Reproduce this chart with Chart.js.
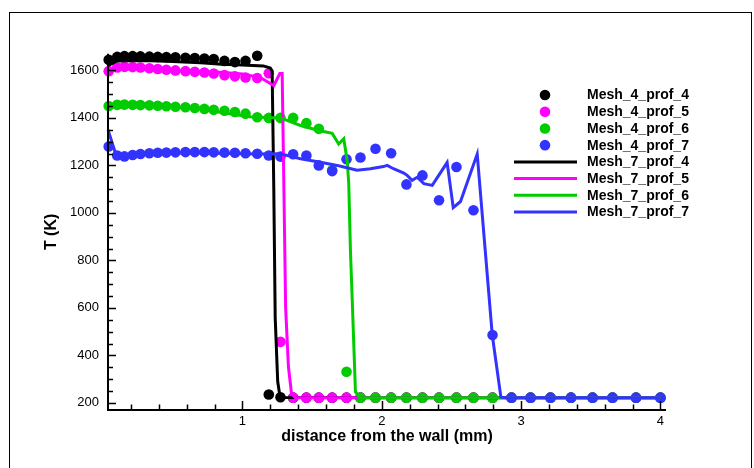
<!DOCTYPE html>
<html>
<head>
<meta charset="utf-8">
<script src="https://cdn.jsdelivr.net/npm/chart.js@4.4.0/dist/chart.umd.min.js"></script>
<style>
  html, body { margin: 0; padding: 0; background: #ffffff; }
  canvas { display: block; }
</style>
</head>
<body>
<canvas id="profiles" width="754" height="468"></canvas>
<script>
// Coarse mesh (Mesh_4) sample positions, mm from the wall
const mesh4X = [0.040, 0.101, 0.153, 0.212, 0.268, 0.332, 0.392, 0.454, 0.519, 0.591,
                0.658, 0.727, 0.794, 0.871, 0.946, 1.022, 1.106, 1.189, 1.273, 1.364,
                1.459, 1.548, 1.644, 1.747, 1.847, 1.955, 2.067, 2.177, 2.292, 2.411,
                2.536, 2.658, 2.795, 2.931, 3.068, 3.211, 3.358, 3.513, 3.656, 3.825, 4.0];

// Mesh_4 temperatures (K) for profiles 4..7
const mesh4Prof4 = [1645, 1657, 1660, 1660, 1659, 1658, 1657, 1656, 1655, 1653,
                    1652, 1650, 1648, 1640, 1635, 1640, 1662, 235, 224, 222,
                    222, 222, 222, 222, 222, 222, 222, 222, 222, 222,
                    222, 222, 222, 222, 222, 222, 222, 222, 222, 222, 222];
const mesh4Prof5 = [1597, 1612, 1615, 1614, 1612, 1609, 1606, 1603, 1600, 1597,
                    1594, 1591, 1587, 1580, 1575, 1570, 1568, 1588, 457, 222,
                    222, 222, 222, 222, 222, 222, 222, 222, 222, 222,
                    222, 222, 222, 222, 222, 222, 222, 222, 222, 222, 222];
const mesh4Prof6 = [1450, 1455, 1456, 1455, 1454, 1453, 1451, 1449, 1447, 1445,
                    1442, 1438, 1434, 1430, 1425, 1418, 1403, 1400, 1400, 1400,
                    1378, 1354, 1180, 331, 222, 222, 222, 222, 222, 222,
                    222, 222, 222, 222, 222, 222, 222, 222, 222, 222, 222];
const mesh4Prof7 = [1280, 1242, 1238, 1244, 1248, 1251, 1253, 1254, 1255, 1256,
                    1256, 1256, 1255, 1254, 1253, 1251, 1249, 1242, 1237, 1247,
                    1242, 1200, 1176, 1226, 1233, 1270, 1251, 1120, 1158, 1053,
                    1193, 1011, 486, 222, 222, 222, 222, 222, 222, 222, 222];

// Fine mesh (Mesh_7) profiles: positions (mm) and temperatures (K)
const mesh7Prof4X = [0.035, 0.10, 0.30, 0.50, 0.70, 0.85, 1.00, 1.15, 1.20, 1.213,
                     1.225, 1.235, 1.253, 1.268, 1.30, 4.0];
const mesh7Prof4T = [1620, 1640, 1642, 1638, 1632, 1626, 1623, 1619, 1610, 1598,
                     1100, 560, 290, 232, 223, 222];

const mesh7Prof5X = [0.035, 0.08, 0.30, 0.60, 0.842, 1.00, 1.129, 1.225, 1.268, 1.285,
                     1.295, 1.31, 1.33, 1.352, 1.38, 4.0];
const mesh7Prof5T = [1585, 1608, 1604, 1597, 1592, 1585, 1570, 1536, 1587, 1587,
                     1200, 600, 352, 240, 222, 222];

const mesh7Prof6X = [0.035, 0.10, 0.30, 0.50, 0.70, 0.90, 1.05, 1.273, 1.417, 1.548,
                     1.644, 1.691, 1.727, 1.752, 1.763, 1.775, 1.788, 1.811, 1.84, 4.0];
const mesh7Prof6T = [1440, 1450, 1450, 1446, 1436, 1418, 1405, 1400, 1368, 1347,
                     1335, 1290, 1312, 1220, 1123, 843, 633, 247, 222, 222];

const mesh7Prof7X = [0.035, 0.085, 0.14, 0.30, 0.50, 0.70, 0.90, 1.10, 1.273, 1.417,
                     1.56, 1.68, 1.727, 1.823, 1.919, 2.012, 2.039, 2.084, 2.158, 2.182,
                     2.218, 2.254, 2.302, 2.362, 2.469, 2.513, 2.565, 2.685, 2.793, 2.855,
                     2.90, 4.0];
const mesh7Prof7T = [1350, 1258, 1240, 1247, 1252, 1252, 1250, 1248, 1249, 1228,
                     1213, 1200, 1193, 1180, 1186, 1195, 1200, 1186, 1168, 1158,
                     1137, 1150, 1123, 1116, 1212, 1022, 1048, 1248, 486, 224,
                     222, 222];

const seriesLabels = ['Mesh_4_prof_4', 'Mesh_4_prof_5', 'Mesh_4_prof_6', 'Mesh_4_prof_7',
                      'Mesh_7_prof_4', 'Mesh_7_prof_5', 'Mesh_7_prof_6', 'Mesh_7_prof_7'];

const xTickValues = [1, 2, 3, 4];
const yTickValues = [200, 400, 600, 800, 1000, 1200, 1400, 1600];

const FONT = '"Liberation Sans", Arial, Helvetica, sans-serif';
const profileColors = ['#000000', '#ff00ff', '#00cc00', '#3333ff'];

function toPoints(xs, ys) {
  return xs.map((x, i) => ({ x: x, y: ys[i] }));
}

function dotSeries(label, xs, ys, color, order) {
  return {
    label: label, data: toPoints(xs, ys), showLine: false,
    pointRadius: 5.3, pointHoverRadius: 5.3, pointBorderWidth: 0,
    pointBackgroundColor: color, backgroundColor: color, borderColor: color,
    clip: false, order: order
  };
}

function lineSeries(label, xs, ys, color, order) {
  return {
    label: label, data: toPoints(xs, ys), showLine: true, fill: false,
    borderColor: color, backgroundColor: color, borderWidth: 3,
    pointRadius: 0, pointHoverRadius: 0, tension: 0,
    borderJoinStyle: 'miter', clip: false, order: order
  };
}

const datasets = [
  dotSeries(seriesLabels[0], mesh4X, mesh4Prof4, profileColors[0], 7),
  dotSeries(seriesLabels[1], mesh4X, mesh4Prof5, profileColors[1], 6),
  dotSeries(seriesLabels[2], mesh4X, mesh4Prof6, profileColors[2], 5),
  dotSeries(seriesLabels[3], mesh4X, mesh4Prof7, profileColors[3], 4),
  lineSeries(seriesLabels[4], mesh7Prof4X, mesh7Prof4T, profileColors[0], 3),
  lineSeries(seriesLabels[5], mesh7Prof5X, mesh7Prof5T, profileColors[1], 2),
  lineSeries(seriesLabels[6], mesh7Prof6X, mesh7Prof6T, profileColors[2], 1),
  lineSeries(seriesLabels[7], mesh7Prof7X, mesh7Prof7T, profileColors[3], 0)
];

// Outer frame around the figure
const framePlugin = {
  id: 'frame',
  beforeDraw(chart) {
    const ctx = chart.ctx;
    ctx.save();
    ctx.strokeStyle = '#000000';
    ctx.lineWidth = 1;
    ctx.strokeRect(9.5, 12.5, 742, 500);
    ctx.restore();
  }
};

// Axis lines with inward major/minor tick marks, drawn over the data
const axesPlugin = {
  id: 'axesInward',
  afterDatasetsDraw(chart) {
    const ctx = chart.ctx;
    const area = chart.chartArea;
    const xs = chart.scales.x, ys = chart.scales.y;
    ctx.save();
    ctx.strokeStyle = '#000000';
    ctx.lineCap = 'butt';

    ctx.lineWidth = 1.5;
    ctx.beginPath();
    for (let v = 0.2; v <= 4.0001; v += 0.2) {
      const px = Math.round(xs.getPixelForValue(v)) + 0.5;
      const major = Math.abs(v - Math.round(v)) < 1e-6;
      ctx.moveTo(px, area.bottom);
      ctx.lineTo(px, area.bottom - (major ? 9 : 5.5));
    }
    for (let v = 200; v <= 1650; v += 50) {
      const py = Math.round(ys.getPixelForValue(v)) + 0.5;
      const major = v % 200 === 0;
      ctx.moveTo(area.left, py);
      ctx.lineTo(area.left + (major ? 8 : 5), py);
    }
    ctx.stroke();

    ctx.lineWidth = 2;
    ctx.beginPath();
    ctx.moveTo(area.left, area.top);
    ctx.lineTo(area.left, area.bottom + 1);
    ctx.moveTo(area.left - 1, area.bottom);
    ctx.lineTo(area.right, area.bottom);
    ctx.stroke();
    ctx.restore();
  }
};

// Legend: dot markers for Mesh_4, line samples for Mesh_7
const legendPlugin = {
  id: 'profileLegend',
  afterDraw(chart) {
    const ctx = chart.ctx;
    ctx.save();
    ctx.font = 'bold 14px ' + FONT;
    ctx.textBaseline = 'middle';
    ctx.textAlign = 'left';
    chart.data.datasets.forEach((ds, i) => {
      const y = 95 + i * 16.72;
      if (ds.showLine) {
        ctx.strokeStyle = ds.borderColor;
        ctx.lineWidth = 3;
        ctx.beginPath();
        ctx.moveTo(514, y);
        ctx.lineTo(577, y);
        ctx.stroke();
      } else {
        ctx.fillStyle = ds.pointBackgroundColor;
        ctx.beginPath();
        ctx.arc(545, y, 5.3, 0, Math.PI * 2);
        ctx.fill();
      }
      ctx.fillStyle = '#000000';
      ctx.fillText(ds.label, 587, y + 0.5);
    });
    ctx.restore();
  }
};

new Chart(document.getElementById('profiles'), {
  type: 'scatter',
  data: { datasets: datasets },
  options: {
    responsive: false,
    animation: false,
    events: [],
    layout: { padding: { left: 0, right: 88, top: 53.8, bottom: 0 } },
    plugins: {
      legend: { display: false },
      tooltip: { enabled: false }
    },
    scales: {
      x: {
        type: 'linear', min: 0.035, max: 4.04,
        grid: { display: false, drawTicks: false },
        border: { display: false },
        afterBuildTicks: s => { s.ticks = xTickValues.map(v => ({ value: v })); },
        afterFit: s => { s.height = 58; },
        ticks: {
          color: '#000000', padding: 4, maxRotation: 0, autoSkip: false,
          font: { family: FONT, size: 13 },
          callback: v => String(v)
        },
        title: {
          display: true, text: 'distance from the wall (mm)', color: '#000000',
          font: { family: FONT, size: 16, weight: 'bold' },
          padding: { top: 0, bottom: 21.4 }
        }
      },
      y: {
        type: 'linear', min: 170, max: 1670,
        grid: { display: false, drawTicks: false },
        border: { display: false },
        afterBuildTicks: s => { s.ticks = yTickValues.map(v => ({ value: v })); },
        afterFit: s => { s.width = 108; },
        ticks: {
          color: '#000000', padding: 9, autoSkip: false,
          font: { family: FONT, size: 13 },
          callback: v => String(v)
        },
        title: {
          display: true, text: 'T (K)', color: '#000000',
          font: { family: FONT, size: 16, weight: 'bold' },
          padding: { top: 42.4, bottom: 0 }
        }
      }
    }
  },
  plugins: [framePlugin, axesPlugin, legendPlugin]
});
</script>
</body>
</html>
